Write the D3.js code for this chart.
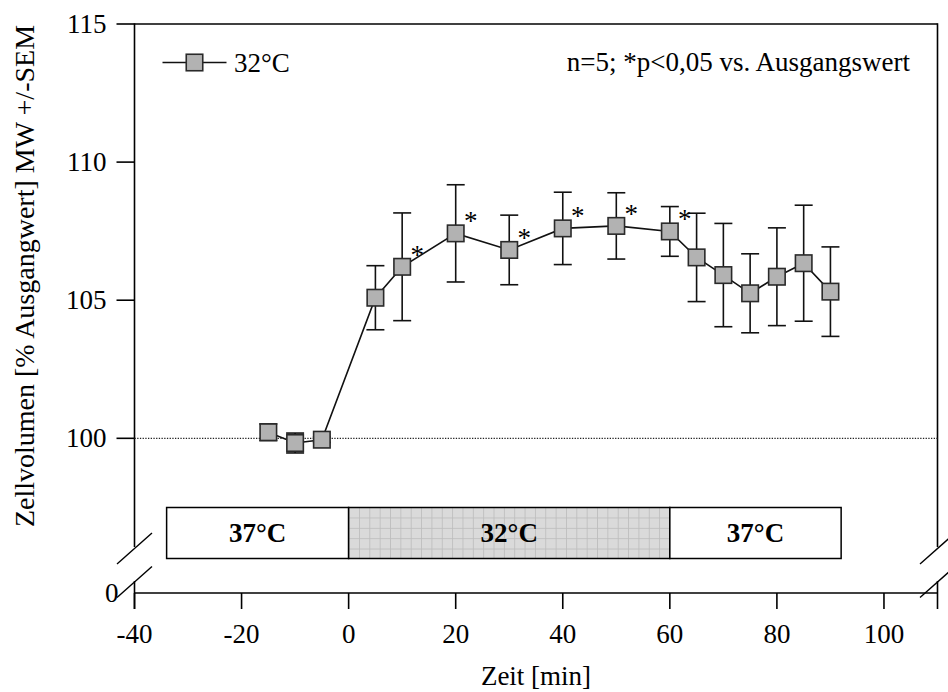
<!DOCTYPE html>
<html>
<head>
<meta charset="utf-8">
<script src="https://cdn.jsdelivr.net/npm/d3@7"></script>
<style>
  body { margin: 0; background: #fff; }
  text { font-family: "Liberation Serif", "Times New Roman", serif; fill: #000; }
</style>
</head>
<body>
<div id="chart"></div>
<script>
// time points (min), mean cell volume (% baseline) and SEM
const times = [-15, -10, -5, 5, 10, 20, 30, 40, 50, 60, 65, 70, 75, 80, 85, 90];
const means = [100.22, 99.83, 99.95, 105.09, 106.21, 107.42, 106.82, 107.6, 107.69, 107.49, 106.55, 105.91, 105.25, 105.85, 106.34, 105.31];
const sems = [0.3, 0.36, 0.1, 1.16, 1.95, 1.76, 1.26, 1.31, 1.2, 0.9, 1.6, 1.87, 1.43, 1.77, 2.1, 1.62];
const significant = [false, false, false, false, true, true, true, true, true, true, false, false, false, false, false, false];

// temperature phases shown in the bar at the bottom
const phaseLabels = ["37°C", "32°C", "37°C"];
const phaseStart = [-34, 0, 60];
const phaseEnd = [0, 60, 92];

const xTicks = [-40, -20, 0, 20, 40, 60, 80, 100];
const yTicks = [100, 105, 110, 115];

const width = 948;
const height = 692;

const svg = d3.select("#chart")
  .append("svg")
  .attr("width", width)
  .attr("height", height);

// x goes -40..110, y is broken between 0 and 96
const x = d3.scaleLinear().domain([-40, 110]).range([134.5, 937.5]);
const y = d3.scaleLinear().domain([0, 96, 115]).range([593, 548.8, 24]);

const fontSize = 27;

// grid pattern for the 32°C block
const defs = svg.append("defs");
const pat = defs.append("pattern")
  .attr("id", "grid")
  .attr("patternUnits", "userSpaceOnUse")
  .attr("x", x(0))
  .attr("y", 0)
  .attr("width", 10.35)
  .attr("height", 10.35);
pat.append("rect").attr("width", 10.35).attr("height", 10.35).attr("fill", "#dadada");
pat.append("path")
  .attr("d", "M0,0.4H10.35M0.4,0V10.35")
  .attr("stroke", "#bcbcbc")
  .attr("stroke-width", 0.9);

// frame: top and right border
const axisColour = "#000";
const axisWidth = 1.6;
const breakTop = 547;
const breakBottom = 581;

svg.append("line")
  .attr("x1", x(-40)).attr("x2", x(110))
  .attr("y1", y(115)).attr("y2", y(115))
  .attr("stroke", axisColour).attr("stroke-width", axisWidth);

// left and right vertical lines, each broken
[x(-40), x(110)].forEach((xx) => {
  svg.append("line")
    .attr("x1", xx).attr("x2", xx)
    .attr("y1", y(115) - 0.8).attr("y2", breakTop)
    .attr("stroke", axisColour).attr("stroke-width", axisWidth);
  svg.append("line")
    .attr("x1", xx).attr("x2", xx)
    .attr("y1", breakBottom).attr("y2", y(0) + 16)
    .attr("stroke", axisColour).attr("stroke-width", axisWidth);
  // break marks
  [548.5, 582].forEach((yy) => {
    svg.append("line")
      .attr("x1", xx - 17.5).attr("y1", yy + 15.5)
      .attr("x2", xx + 17.5).attr("y2", yy - 15.5)
      .attr("stroke", axisColour).attr("stroke-width", 1.4);
  });
});

// x axis
svg.append("line")
  .attr("x1", x(-40)).attr("x2", x(110))
  .attr("y1", y(0)).attr("y2", y(0))
  .attr("stroke", axisColour).attr("stroke-width", axisWidth);

svg.selectAll(".xtick")
  .data(xTicks)
  .join("line")
  .attr("class", "xtick")
  .attr("x1", (d) => x(d)).attr("x2", (d) => x(d))
  .attr("y1", y(0)).attr("y2", y(0) + 16)
  .attr("stroke", axisColour).attr("stroke-width", axisWidth);

svg.selectAll(".xlabel")
  .data(xTicks)
  .join("text")
  .attr("class", "xlabel")
  .attr("x", (d) => x(d))
  .attr("y", 643)
  .attr("text-anchor", "middle")
  .attr("font-size", fontSize)
  .text((d) => d);

svg.append("text")
  .attr("x", (x(-40) + x(110)) / 2)
  .attr("y", 685)
  .attr("text-anchor", "middle")
  .attr("font-size", fontSize)
  .text("Zeit [min]");

// y axis ticks
svg.selectAll(".ytick")
  .data(yTicks)
  .join("line")
  .attr("class", "ytick")
  .attr("x1", x(-40) - 18).attr("x2", x(-40))
  .attr("y1", (d) => y(d)).attr("y2", (d) => y(d))
  .attr("stroke", axisColour).attr("stroke-width", axisWidth);

svg.selectAll(".ylabel")
  .data(yTicks)
  .join("text")
  .attr("class", "ylabel")
  .attr("x", x(-40) - 28)
  .attr("y", (d) => y(d))
  .attr("dy", "0.34em")
  .attr("text-anchor", "end")
  .attr("font-size", fontSize)
  .text((d) => d);

svg.append("text")
  .attr("x", x(-40) - 16)
  .attr("y", y(0))
  .attr("dy", "0.34em")
  .attr("text-anchor", "end")
  .attr("font-size", fontSize)
  .text("0");

svg.append("text")
  .attr("transform", "translate(34,276) rotate(-90)")
  .attr("text-anchor", "middle")
  .attr("font-size", 28)
  .text("Zellvolumen [% Ausgangwert] MW +/-SEM");

// dotted baseline at 100 %
svg.append("line")
  .attr("x1", x(-40)).attr("x2", x(110))
  .attr("y1", y(100)).attr("y2", y(100))
  .attr("stroke", "#222")
  .attr("stroke-width", 1.3)
  .attr("stroke-dasharray", "1.3,1.4");

// temperature bar
const barTop = 507.5;
const barBottom = 558.5;
const phases = svg.selectAll(".phase")
  .data(phaseLabels.map((label, i) => ({ label, start: phaseStart[i], end: phaseEnd[i] })))
  .join("g")
  .attr("class", "phase");

phases.append("rect")
  .attr("x", (d) => x(d.start))
  .attr("y", barTop)
  .attr("width", (d) => x(d.end) - x(d.start))
  .attr("height", barBottom - barTop)
  .attr("fill", (d, i) => (i === 1 ? "url(#grid)" : "#fff"))
  .attr("stroke", "#000")
  .attr("stroke-width", 1.5);

phases.append("text")
  .attr("x", (d) => (x(d.start) + x(d.end)) / 2)
  .attr("y", (barTop + barBottom) / 2)
  .attr("dy", "0.35em")
  .attr("text-anchor", "middle")
  .attr("font-size", fontSize)
  .attr("font-weight", "bold")
  .text((d) => d.label);

// data
const points = times.map((t, i) => ({ t, m: means[i], s: sems[i], sig: significant[i] }));

const line = d3.line()
  .x((d) => x(d.t))
  .y((d) => y(d.m));

svg.append("path")
  .datum(points)
  .attr("d", line)
  .attr("fill", "none")
  .attr("stroke", "#111")
  .attr("stroke-width", 1.6);

const capHalf = 9;
const bars = svg.selectAll(".err")
  .data(points)
  .join("g")
  .attr("class", "err")
  .attr("stroke", "#111")
  .attr("stroke-width", 1.6);

bars.append("line")
  .attr("x1", (d) => x(d.t)).attr("x2", (d) => x(d.t))
  .attr("y1", (d) => y(d.m + d.s)).attr("y2", (d) => y(d.m - d.s));
bars.append("line")
  .attr("x1", (d) => x(d.t) - capHalf).attr("x2", (d) => x(d.t) + capHalf)
  .attr("y1", (d) => y(d.m + d.s)).attr("y2", (d) => y(d.m + d.s));
bars.append("line")
  .attr("x1", (d) => x(d.t) - capHalf).attr("x2", (d) => x(d.t) + capHalf)
  .attr("y1", (d) => y(d.m - d.s)).attr("y2", (d) => y(d.m - d.s));

const sq = 16.5;
svg.selectAll(".pt")
  .data(points)
  .join("rect")
  .attr("class", "pt")
  .attr("x", (d) => x(d.t) - sq / 2)
  .attr("y", (d) => y(d.m) - sq / 2)
  .attr("width", sq)
  .attr("height", sq)
  .attr("fill", "#b2b2b2")
  .attr("stroke", "#2a2a2a")
  .attr("stroke-width", 1.6);

svg.selectAll(".star")
  .data(points.filter((d) => d.sig))
  .join("text")
  .attr("class", "star")
  .attr("x", (d) => x(d.t) + 15)
  .attr("y", (d) => y(d.m) - 3)
  .attr("text-anchor", "middle")
  .attr("font-size", fontSize)
  .text("*");

// legend
svg.append("line")
  .attr("x1", 162.5).attr("x2", 226.5)
  .attr("y1", 62.5).attr("y2", 62.5)
  .attr("stroke", "#111").attr("stroke-width", 1.6);
svg.append("rect")
  .attr("x", 194.5 - sq / 2).attr("y", 62.5 - sq / 2)
  .attr("width", sq).attr("height", sq)
  .attr("fill", "#b2b2b2")
  .attr("stroke", "#2a2a2a")
  .attr("stroke-width", 1.6);
svg.append("text")
  .attr("x", 234)
  .attr("y", 72)
  .attr("font-size", fontSize)
  .text("32°C");

svg.append("text")
  .attr("x", 910)
  .attr("y", 71)
  .attr("text-anchor", "end")
  .attr("font-size", fontSize)
  .text("n=5; *p<0,05 vs. Ausgangswert");
</script>
</body>
</html>
